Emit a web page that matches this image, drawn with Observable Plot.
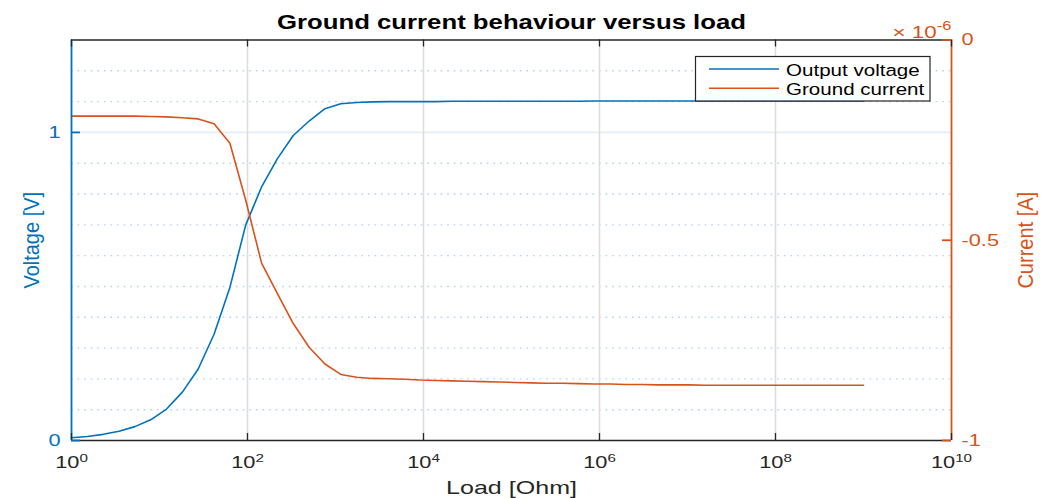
<!DOCTYPE html>
<html><head><meta charset="utf-8">
<script src="https://cdn.jsdelivr.net/npm/d3@7"></script>
<script src="https://cdn.jsdelivr.net/npm/@observablehq/plot@0.6"></script>
<style>
html,body{margin:0;padding:0;background:#fff;}
#chart svg{display:block;}
</style></head><body><div id="chart"></div>
<script>
// ---------------- data ----------------
const loadExponent = [0,0.18,0.36,0.54,0.72,0.9,1.08,1.26,1.44,1.62,1.8,1.98,2.16,2.34,2.52,2.7,2.88,3.06,3.24,3.42,3.6,3.78,3.96,4.14,4.32,4.5,4.68,4.86,5.04,5.22,5.4,5.58,5.76,5.94,6.12,6.3,6.48,6.66,6.84,7.02,7.2,7.38,7.56,7.74,7.92,8.1,8.28,8.46,8.64,8.82,9.0];
const outputVoltage = [0.009,0.013,0.020,0.030,0.045,0.067,0.102,0.157,0.232,0.345,0.497,0.700,0.823,0.915,0.990,1.037,1.077,1.093,1.097,1.099,1.100,
  1.100,1.100,1.100,1.101,1.101,1.101,1.101,1.101,1.101,1.101,1.101,1.101,
  1.102,1.102,1.102,1.102,1.102,1.102,1.102,1.102,1.102,1.102,1.102,1.102,1.102,1.102,1.102,1.102,1.102,1.102];
const groundCurrentMicroA = [-0.190,-0.190,-0.190,-0.190,-0.190,-0.191,-0.192,-0.194,-0.197,-0.209,-0.258,-0.400,-0.557,-0.633,-0.708,-0.767,-0.809,-0.835,-0.842,-0.845,-0.846,
  -0.847,-0.849,-0.850,-0.851,-0.852,-0.853,-0.854,-0.855,-0.856,-0.857,-0.857,-0.858,-0.859,-0.859,-0.860,-0.860,-0.861,-0.861,-0.861,
  -0.862,-0.862,-0.862,-0.862,-0.862,-0.862,-0.862,-0.862,-0.862,-0.862,-0.862];
const xTickExponents = [0,2,4,6,8,10];
const xGridExponents = [2,4,6,8];
const leftTicks = [0,1];
const leftMinorGrid = [0.1,0.2,0.3,0.4,0.5,0.6,0.7,0.8,0.9,1.1,1.2];
const rightTicks = [-1,-0.5,0];
const rightTickLabels = ["-1","-0.5","0"];
const seriesNames = ["Output voltage","Ground current"];
const titleText = "Ground current behaviour versus load";
const xLabel = "Load [Ohm]";
const yLeftLabel = "Voltage [V]";
const yRightLabel = "Current [A]";
const rightExponentLabel = "× 10^-6";

// ---------------- layout / style ----------------
const W = 1056, H = 498;
const mL = 71, mR = 105, mT = 39.5, mB = 58;
const plotW = W - mL - mR, plotH = H - mT - mB;
const BLUE = "#0072BD", ORANGE = "#D95319", DARK = "#262626";
const FONT = "'Liberation Sans', Arial, Helvetica, sans-serif";
const yLeftMax = 1.3;
const toLeft = c => (c + 1) * yLeftMax;   // right axis [-1,0] µA -> left axis [0,1.3]

const data = loadExponent.map((e, i) => ({load: Math.pow(10, e), v: outputVoltage[i], c: toLeft(groundCurrentMicroA[i])}));
const xTicks = xTickExponents.map(e => Math.pow(10, e));
const xGrid = xGridExponents.map(e => Math.pow(10, e));
const rightMapped = rightTicks.map(toLeft);

const chart = Plot.plot({
  width: W, height: H,
  marginLeft: mL, marginRight: mR, marginTop: mT, marginBottom: mB,
  style: {fontFamily: FONT, background: "#fff", overflow: "visible"},
  x: {type: "log", domain: [1, 1e10], axis: null},
  y: {domain: [0, yLeftMax], axis: null},
  marks: [
    Plot.ruleY(leftMinorGrid, {stroke: "#b3d3ee", strokeDasharray: "1.6,5", strokeWidth: 1.4}),
    Plot.ruleY([1], {stroke: "#e2edf7", strokeWidth: 1.6}),
    Plot.ruleX(xGrid, {stroke: "#dcdcdc", strokeWidth: 1.5}),
    Plot.line(data, {x: "load", y: "v", stroke: BLUE, strokeWidth: 1.6}),
    Plot.line(data, {x: "load", y: "c", stroke: ORANGE, strokeWidth: 1.6}),
    // box
    Plot.ruleY([0, yLeftMax], {stroke: DARK, strokeWidth: 1.3}),
    Plot.ruleX([1], {stroke: BLUE, strokeWidth: 1.8}),
    Plot.ruleX([1e10], {stroke: ORANGE, strokeWidth: 1.8}),
    // inward ticks
    Plot.tickX(xTicks, {x: d => d, stroke: DARK, strokeWidth: 1.3, insetTop: plotH - 7}),
    Plot.tickX(xTicks, {x: d => d, stroke: DARK, strokeWidth: 1.3, insetBottom: plotH - 7}),
    Plot.tickY(leftTicks, {y: d => d, stroke: BLUE, strokeWidth: 1.8, insetRight: plotW - 9}),
    Plot.tickY(rightMapped, {y: d => d, stroke: ORANGE, strokeWidth: 1.8, insetLeft: plotW - 9}),
    // axes labels
    Plot.axisX(xTicks, {tickSize: 0, tickPadding: 16, label: null, fontSize: 16.5, color: DARK,
      tickFormat: d => "10^" + Math.round(Math.log10(d))}),
    Plot.axisY(leftTicks, {anchor: "left", tickSize: 0, tickPadding: 11, label: null, fontSize: 16.5, color: BLUE,
      tickFormat: d => String(d)}),
    Plot.axisY(rightMapped, {anchor: "right", tickSize: 0, tickPadding: 10, label: null, fontSize: 16.5, color: ORANGE,
      tickFormat: d => rightTickLabels[rightMapped.indexOf(d)]}),
    Plot.text([titleText], {text: d => d, frameAnchor: "top", textAnchor: "middle", lineAnchor: "middle", dy: -17, fontSize: 19.5, fontWeight: "bold", fill: "#000"}),
    Plot.text([xLabel], {text: d => d, frameAnchor: "bottom", textAnchor: "middle", lineAnchor: "middle", dy: 47, fontSize: 19, fill: DARK}),
    Plot.text([yLeftLabel], {text: d => d, frameAnchor: "left", textAnchor: "middle", lineAnchor: "middle", dx: -40, rotate: -90, fontSize: 20, fill: BLUE}),
    Plot.text([yRightLabel], {text: d => d, frameAnchor: "right", textAnchor: "middle", lineAnchor: "middle", dx: 74, rotate: -90, fontSize: 20, fill: ORANGE}),
    Plot.text([rightExponentLabel], {text: d => d, frameAnchor: "top-right", textAnchor: "end", lineAnchor: "bottom", dy: -2.5, fontSize: 17, fill: ORANGE})
  ]
});

document.getElementById("chart").appendChild(chart);
const svg = d3.select(chart);

// superscripts
function supify(el, supSize, shift) {
  const s = el.textContent;
  const idx = s.indexOf("^");
  if (idx < 0) return;
  const base = s.slice(0, idx), sup = s.slice(idx + 1);
  el.textContent = "";
  d3.select(el).append("tspan").text(base);
  d3.select(el).append("tspan").attr("font-size", supSize).attr("dy", shift).text(sup);
}
function stretch(el, sx, sy) {
  const t = el.getAttribute("transform") || "";
  el.setAttribute("transform", (t + ` scale(${sx},${sy})`).trim());
}
svg.selectAll("text").each(function() {
  if (this.textContent.indexOf("^") >= 0) {
    const isExp = this.textContent.startsWith("×");
    supify(this, isExp ? 12.5 : 11.5, isExp ? -8 : -6.5);
  }
});
svg.selectAll("text").each(function() {
  const t = this.getAttribute("transform") || "";
  if (t.indexOf("rotate") >= 0) stretch(this, 1, 1.12);
  else stretch(this, 1.32, 1);
});

// legend
const lg = svg.append("g").attr("font-family", FONT).attr("text-anchor", "start");
lg.append("rect").attr("x", 695.5).attr("y", 56.5).attr("width", 234.5).attr("height", 44.5)
  .attr("fill", "#fff").attr("stroke", DARK).attr("stroke-width", 1.2);
[BLUE, ORANGE].forEach((col, i) => {
  const yy = 69 + i * 19.3;
  lg.append("line").attr("x1", 709).attr("x2", 779).attr("y1", yy).attr("y2", yy)
    .attr("stroke", col).attr("stroke-width", 1.6);
  lg.append("text").attr("text-anchor", "start").attr("transform", `translate(786,${yy + 6.5}) scale(1.21,1)`)
    .attr("font-size", 17).attr("fill", "#000").text(seriesNames[i]);
});
</script>
</body></html>
